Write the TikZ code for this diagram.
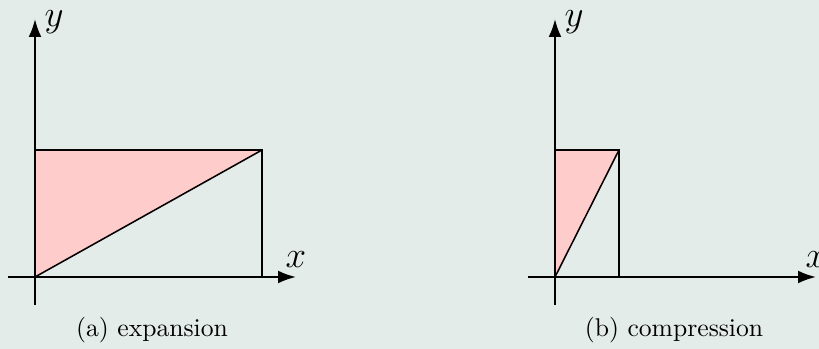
\documentclass[tikz,border=0pt]{standalone}
\usetikzlibrary{arrows.meta}
\definecolor{bgcol}{HTML}{E4ECE9}
\definecolor{areacol}{HTML}{FFCCCC}
\begin{document}
\begin{tikzpicture}[x=0.39pt,y=-0.39pt,
  axis/.style={thick,-{Latex[length=7pt,width=5pt]}},
  lab/.style={font=\Large}]
  \fill[bgcol] (0,0) rectangle (819,349);
  \useasboundingbox (0,0) rectangle (819,349);
  % (a) expansion
  \coordinate (oa) at (35,277);
  \coordinate (ta) at (35,150);
  \coordinate (ca) at (262,150);
  \coordinate (ba) at (262,277);
  \fill[areacol] (oa) -- (ta) -- (ca) -- cycle;
  \draw (ta) -- (ca) -- (ba);
  \draw[semithick] (oa) -- (ca);
  \draw[axis] (8,277) -- (296,277) node[lab,above]{$x$};
  \draw[axis] (35,305) -- (35,19) node[lab,right,yshift=-1.2pt]{$y$};
  \node (capa) at (152,330) {(a) expansion};
  % (b) compression
  \coordinate (ob) at (555,277);
  \coordinate (tb) at (555,150);
  \coordinate (cb) at (619,150);
  \coordinate (bb) at (619,277);
  \fill[areacol] (ob) -- (tb) -- (cb) -- cycle;
  \draw (tb) -- (cb) -- (bb);
  \draw[semithick] (ob) -- (cb);
  \draw[axis] (528,277) -- (816,277) node[lab,above]{$x$};
  \draw[axis] (555,305) -- (555,19) node[lab,right,yshift=-1.2pt]{$y$};
  \node (capb) at (674,330) {(b) compression};
\end{tikzpicture}
\end{document}
